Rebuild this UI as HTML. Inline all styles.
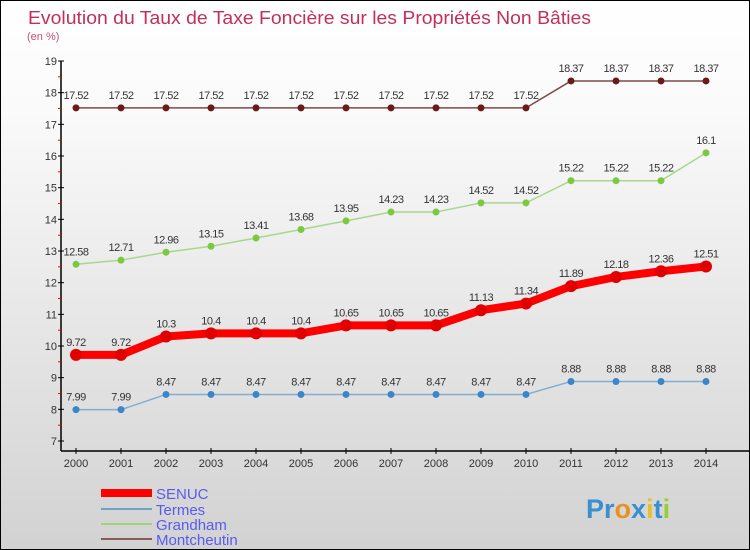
<!DOCTYPE html>
<html><head><meta charset="utf-8"><style>
body{margin:0}
#c{width:748px;height:548px;border:1px solid #000;background:linear-gradient(#fff,#fafafa 20%,#d2d2d2);position:relative;overflow:hidden;font-family:"Liberation Sans",sans-serif}
</style></head><body>
<div id="c">
<svg id="s" width="748" height="548" font-family="Liberation Sans, sans-serif">
<text x="27" y="23" font-size="18" fill="#c0305a" textLength="563" lengthAdjust="spacingAndGlyphs">Evolution du Taux de Taxe Foncière sur les Propriétés Non Bâties</text>
<text x="26" y="39" font-size="11" fill="#c0507a">(en %)</text>
<g id="axes"></g><g id="series"></g>
<g>
<line x1="100" y1="492" x2="151" y2="492" stroke="#f00" stroke-width="8"/>
<text x="155" y="498" font-size="15" fill="#5a5af0">SENUC</text>
<line x1="100" y1="508" x2="151" y2="508" stroke="#6fa2c8" stroke-width="2"/>
<text x="155" y="514" font-size="15" fill="#5a5af0">Termes</text>
<line x1="100" y1="523" x2="151" y2="523" stroke="#9fd47f" stroke-width="2"/>
<text x="155" y="529" font-size="15" fill="#5a5af0">Grandham</text>
<line x1="100" y1="538" x2="151" y2="538" stroke="#8a5a5a" stroke-width="2"/>
<text x="155" y="544" font-size="15" fill="#5a5af0">Montcheutin</text>
</g>
<text x="585" y="517" font-size="27" font-weight="bold"><tspan fill="#3a8fd0">Pr</tspan><tspan fill="#e89020">o</tspan><tspan fill="#3a8fd0">x</tspan><tspan fill="#e8c020">i</tspan><tspan fill="#3a8fd0">t</tspan><tspan fill="#9acd32">i</tspan></text>
</svg></div>
<script>
const years=[2000,2001,2002,2003,2004,2005,2006,2007,2008,2009,2010,2011,2012,2013,2014];
const yTicks=[7,8,9,10,11,12,13,14,15,16,17,18,19];
const senuc=[9.72,9.72,10.3,10.4,10.4,10.4,10.65,10.65,10.65,11.13,11.34,11.89,12.18,12.36,12.51];
const termes=[7.99,7.99,8.47,8.47,8.47,8.47,8.47,8.47,8.47,8.47,8.47,8.88,8.88,8.88,8.88];
const grandham=[12.58,12.71,12.96,13.15,13.41,13.68,13.95,14.23,14.23,14.52,14.52,15.22,15.22,15.22,16.1];
const montcheutin=[17.52,17.52,17.52,17.52,17.52,17.52,17.52,17.52,17.52,17.52,17.52,18.37,18.37,18.37,18.37];
const NS="http://www.w3.org/2000/svg";
const X=i=>75+i*45, Y=v=>440-(v-7)*(380/12);
function mk(p,t,a){const e=document.createElementNS(NS,t);for(const k in a)e.setAttribute(k,a[k]);p.appendChild(e);return e;}
const ax=document.getElementById('axes');
let e=mk(ax,'line',{x1:60,y1:Y(19),x2:60,y2:450,stroke:'#000','stroke-width':1.5});


e=mk(ax,'line',{x1:60,y1:450,x2:748,y2:450,stroke:'#000','stroke-width':1.5});


yTicks.forEach(v=>{
 mk(ax,'line',{x1:57,y1:Y(v),x2:63,y2:Y(v),stroke:'#000'});
 if(v<19)mk(ax,'line',{x1:57,y1:Y(v+0.5),x2:60,y2:Y(v+0.5),stroke:'#f00'});
 const t=mk(ax,'text',{x:56,y:Y(v)+4,'font-size':11,fill:'#333','text-anchor':'end'});t.textContent=v;
 
 
});
years.forEach((y,i)=>{
 mk(ax,'line',{x1:X(i),y1:447,x2:X(i),y2:453,stroke:'#000'});
 const t=mk(ax,'text',{x:X(i),y:466,'font-size':11,fill:'#333','text-anchor':'middle'});t.textContent=y;
 
 
});
const sg=document.getElementById('series');
function draw(name,vals,col,dot,w,r){
 const g=mk(sg,'g',{});
 
 
 const l=mk(g,'polyline',{points:vals.map((v,i)=>X(i)+','+Y(v)).join(' '),fill:'none',stroke:col,'stroke-width':w,'stroke-linejoin':'round'});
 
 
 vals.forEach((v,i)=>{
  const c=mk(g,'circle',{cx:X(i),cy:Y(v),r:r,fill:dot});
  
  
  const t=mk(g,'text',{x:X(i),y:Y(v)-9,'font-size':11,fill:'#333','text-anchor':'middle','letter-spacing':'-0.5'});t.textContent=v;
  
  
 });
}
draw('montcheutin',montcheutin,'#7a4a4a','#6b1a1a',1.5,3.5);
draw('grandham',grandham,'#a8d890','#7cc840',1.5,3.5);
draw('termes',termes,'#80aed0','#3a86c8',1.5,3.5);
draw('senuc',senuc,'#f00','#e00000',8,6);
</script>
</body></html>
